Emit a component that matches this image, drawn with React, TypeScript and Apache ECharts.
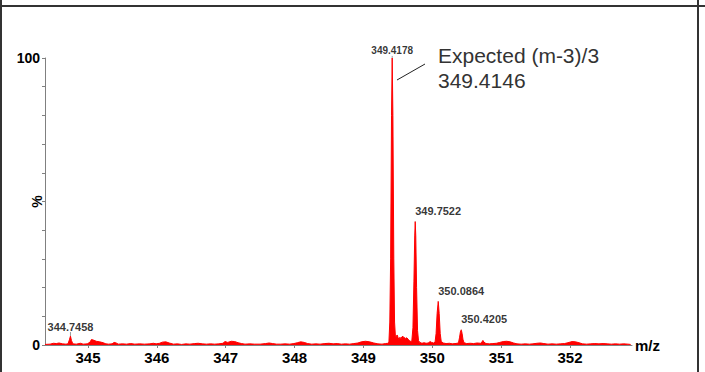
import React, { useEffect, useRef } from "react";
import * as echarts from "echarts";

// m/z values of the profile spectrum (sorted)
const mzValues: number[] = [
  344.376, 344.45, 344.5, 344.54, 344.58, 344.63, 344.68, 344.71, 344.73, 344.7458, 344.76, 344.78,
  344.83, 344.89, 344.93, 344.99, 345.03, 345.05, 345.08, 345.12, 345.17, 345.22, 345.26, 345.3,
  345.35, 345.38, 345.41, 345.44, 345.5, 345.56, 345.62, 345.68, 345.75, 345.82, 345.9, 345.95,
  345.99, 346.04, 346.08, 346.13, 346.18, 346.24, 346.3, 346.36, 346.42, 346.48, 346.55, 346.6,
  346.66, 346.72, 346.78, 346.84, 346.9, 346.96, 346.99, 347.03, 347.08, 347.13, 347.18, 347.23,
  347.28, 347.35, 347.42, 347.5, 347.58, 347.63, 347.68, 347.74, 347.8, 347.86, 347.93, 347.99,
  348.04, 348.09, 348.14, 348.19, 348.25, 348.31, 348.37, 348.44, 348.5, 348.56, 348.62, 348.68,
  348.74, 348.8, 348.86, 348.92, 348.97, 349.03, 349.09, 349.15, 349.21, 349.27, 349.32, 349.355,
  349.37, 349.383, 349.395, 349.408, 349.4178, 349.428, 349.441, 349.452, 349.467, 349.48, 349.49,
  349.503, 349.515, 349.53, 349.545, 349.56, 349.575, 349.59, 349.61, 349.63, 349.65, 349.67,
  349.69, 349.703, 349.719, 349.733, 349.745, 349.7522, 349.76, 349.772, 349.786, 349.8, 349.82,
  349.85, 349.88, 349.91, 349.94, 349.97, 349.99, 350.02, 350.04, 350.055, 350.07, 350.0864,
  350.1, 350.115, 350.13, 350.16, 350.2, 350.25, 350.29, 350.33, 350.36, 350.38, 350.395, 350.408,
  350.4205, 350.433, 350.445, 350.46, 350.5, 350.55, 350.6, 350.65, 350.7, 350.72, 350.735, 350.75,
  350.78, 350.83, 350.88, 350.93, 350.98, 351.03, 351.08, 351.13, 351.18, 351.23, 351.29, 351.35,
  351.41, 351.46, 351.52, 351.57, 351.62, 351.68, 351.74, 351.8, 351.86, 351.92, 351.97, 352.03,
  352.08, 352.13, 352.18, 352.24, 352.3, 352.36, 352.42, 352.48, 352.54, 352.6, 352.66, 352.72,
  352.78, 352.84, 352.88,
];

// relative intensity (%) at each m/z above
const intensityValues: number[] = [
  0.2, 0.3, 0.6, 0.5, 0.7, 0.4, 0.3, 0.4, 1.8, 3.1, 1.6, 0.4,
  0.3, 0.6, 0.3, 0.4, 1.0, 1.9, 1.7, 1.3, 1.1, 0.8, 0.4, 0.3,
  0.4, 0.9, 0.7, 0.3, 0.4, 0.3, 0.5, 0.3, 0.4, 0.3, 0.4, 0.6,
  0.4, 0.6, 1.0, 1.1, 0.7, 0.3, 0.4, 0.2, 0.4, 0.3, 0.5, 0.6,
  0.4, 0.3, 0.4, 0.3, 0.4, 0.6, 1.2, 0.9, 1.3, 1.2, 0.8, 0.5,
  0.3, 0.4, 0.3, 0.3, 0.5, 0.7, 0.5, 0.3, 0.3, 0.4, 0.3, 0.5,
  0.8, 1.1, 0.9, 0.5, 0.3, 0.4, 0.3, 0.5, 0.6, 0.4, 0.5, 0.3,
  0.4, 0.3, 0.5, 0.7, 1.1, 1.3, 1.1, 0.7, 0.4, 0.3, 0.5, 0.6,
  1, 8, 30, 80, 100, 80, 30, 8, 2, 3.2, 3.5,
  2.6, 2.0, 2.7, 2.2, 2.9, 3.0, 2.6, 2.3, 2.5, 2.0, 1.5,
  1.2, 1.5, 6, 22, 38, 43, 38, 20, 5, 1.5, 0.9,
  0.6, 0.8, 0.6, 0.7, 1.2, 0.9, 0.7, 1, 4, 11, 15.2,
  11, 4, 1.2, 0.7, 0.5, 0.6, 0.4, 0.5, 0.6, 0.8, 2.5, 4.5,
  5.3, 4, 2, 0.8, 0.5, 0.6, 0.5, 0.7, 0.6, 1.0, 1.6, 1.0,
  0.5, 0.4, 0.5, 0.6, 0.9, 1.2, 1.3, 1.1, 0.7, 0.4, 0.3, 0.4,
  0.3, 0.4, 0.6, 0.7, 0.5, 0.3, 0.4, 0.3, 0.4, 0.5, 0.8, 1.2,
  1.1, 0.8, 0.4, 0.3, 0.4, 0.5, 0.4, 0.5, 0.4, 0.3, 0.4, 0.3,
  0.4, 0.3, 0.2,
];

// labelled centroid peaks
const peakMz: number[] = [344.7458, 349.4178, 349.7522, 350.0864, 350.4205];
const peakIntensity: number[] = [3.1, 100, 43, 15.2, 5.3];
const peakLabels: string[] = ["344.7458", "349.4178", "349.7522", "350.0864", "350.4205"];
const peakCentered: boolean[] = [true, true, false, false, false];

const xTickValues: number[] = [345, 346, 347, 348, 349, 350, 351, 352];
const yTickValues: number[] = [0, 10, 20, 30, 40, 50, 60, 70, 80, 90, 100];
const yLabelValues: number[] = [0, 100];

const annotationLines: string[] = ["Expected (m-3)/3", "349.4146"];

const FONT = "'Liberation Sans', Arial, Helvetica, sans-serif";

export default function App() {
  const ref = useRef<HTMLDivElement>(null);

  useEffect(() => {
    if (!ref.current) return;
    const chart = echarts.init(ref.current, undefined, { renderer: "svg" });

    const spectrum = mzValues.map((m, i) => [m, intensityValues[i]]);
    const peaks = peakMz.map((m, i) => ({
      value: [m, peakIntensity[i]],
      label: {
        show: true,
        formatter: peakLabels[i],
        position: "top",
        distance: i === 1 ? 2 : peakCentered[i] ? 4 : 5,
        align: peakCentered[i] ? "center" : "left",
        fontSize: i === 1 ? 10 : 11,
        fontWeight: "bold",
        color: "#000",
        fontFamily: FONT,
      },
      labelLayout: peakCentered[i] ? { dy: 0 } : { dx: 2, dy: -1 },
    }));

    chart.setOption({
      animation: false,
      backgroundColor: "#ffffff",
      grid: { left: 45, right: 73, top: 58, bottom: 27, containLabel: false, outerBoundsMode: "none" },
      xAxis: {
        type: "value",
        min: 344.376,
        max: 352.9,
        name: "m/z",
        nameLocation: "end",
        nameGap: 3,
        nameMoveOverlap: false,
        nameTextStyle: { fontSize: 15, fontWeight: "bold", color: "#000", fontFamily: FONT, verticalAlign: "middle" },
        axisLine: { show: true, lineStyle: { color: "#808080", width: 1 } },
        axisTick: { show: true, length: 3, customValues: xTickValues, lineStyle: { color: "#808080" } },
        axisLabel: {
          customValues: xTickValues,
          margin: 5,
          fontSize: 15,
          fontWeight: "bold",
          color: "#000",
          fontFamily: FONT,
        },
        splitLine: { show: false },
      },
      yAxis: {
        type: "value",
        min: 0,
        max: 100,
        name: "%",
        nameLocation: "middle",
        nameGap: 1,
        nameRotate: 90,
        nameMoveOverlap: false,
        nameTextStyle: { fontSize: 14, fontWeight: "bold", color: "#000", fontFamily: FONT },
        axisLine: { show: true, lineStyle: { color: "#808080", width: 1 } },
        axisTick: { show: true, length: 3, customValues: yTickValues, lineStyle: { color: "#808080" } },
        axisLabel: {
          customValues: yLabelValues,
          margin: 5,
          fontSize: 14,
          fontWeight: "bold",
          color: "#000",
          fontFamily: FONT,
        },
        splitLine: { show: false },
      },
      series: [
        {
          type: "line",
          data: spectrum,
          showSymbol: false,
          symbol: "none",
          lineStyle: { color: "#ff0000", width: 1 },
          areaStyle: { color: "#ff0000", opacity: 1 },
          z: 3,
        },
        {
          type: "scatter",
          data: peaks,
          symbolSize: 0.1,
          itemStyle: { color: "rgba(0,0,0,0)" },
          labelLine: { show: true, lineStyle: { color: "#999", width: 1 } },
          z: 4,
        },
      ],
      graphic: [
        { type: "line", shape: { x1: 0, y1: 6, x2: 705, y2: 6 }, style: { stroke: "#333", lineWidth: 2 } },
        { type: "line", shape: { x1: 1, y1: 0, x2: 1, y2: 372 }, style: { stroke: "#333", lineWidth: 2 } },
        { type: "line", shape: { x1: 698, y1: 0, x2: 698, y2: 372 }, style: { stroke: "#333", lineWidth: 2 } },
        { type: "line", shape: { x1: 397, y1: 80, x2: 425, y2: 64 }, style: { stroke: "#222", lineWidth: 1 } },
        {
          type: "text",
          x: 438,
          y: 43,
          style: {
            text: annotationLines.join("\n"),
            font: `21px ${FONT}`,
            fill: "#333",
            lineHeight: 25,
          },
        },
      ],
    });

    return () => chart.dispose();
  }, []);

  return (
    <div
      ref={ref}
      style={{ position: "fixed", left: 0, top: 0, width: 705, height: 372, background: "#fff" }}
    />
  );
}
